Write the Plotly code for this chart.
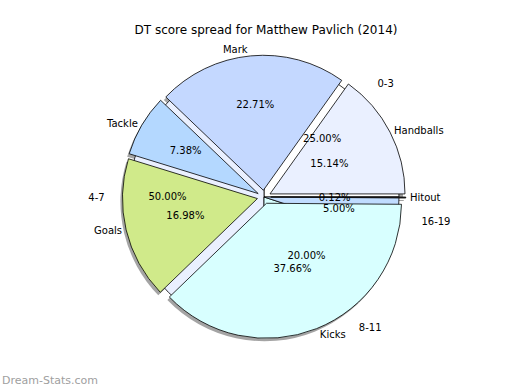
import plotly.graph_objects as go

# ---- data ----
main_labels = ["Handballs", "Mark", "Tackle", "Goals", "Kicks", "Hitout"]
main_values = [15.14, 22.71, 7.38, 16.98, 37.66, 0.12]
age_labels = ["0-3", "4-7", "8-11", "16-19"]
age_values = [25.0, 50.0, 20.0, 5.0]

title_text = "DT score spread for Matthew Pavlich (2014)"
watermark = "Dream-Stats.com"

# ---- style ----
main_colors = ["#eaf0ff", "#c4d8ff", "#b4d8ff", "#d0ea8a", "#d8ffff", "#3a3a3a"]
age_colors = ["#ffffff", "#eaf0ff", "#d8ffff", "#c0dcff"]
# radial scale of the domain used to place each percentage text
main_text_scale = [0.74, 1.05, 0.78, 0.84, 1.0, 0.5]
age_text_scale = [1.04, 1.43, 0.85, 0.65]
PULL = 0.05
W, H = 520, 390
CX, CY = 264, 197  # pie centre in px (from top-left)
R = 135            # pie radius in px
FONT = "DejaVu Sans"
CLEAR = "rgba(0,0,0,0)"


def clamp(v):
    return min(1.0, max(0.0, v))


def domain(r, pull, dx=0.0, dy=0.0):
    half = r * (1 + pull)
    x0 = (CX + dx - half) / W
    x1 = (CX + dx + half) / W
    y0 = 1 - (CY + dy + half) / H
    y1 = 1 - (CY + dy - half) / H
    return dict(x=[clamp(x0), clamp(x1)], y=[clamp(y0), clamp(y1)])


def rot(values):
    # first wedge starts at 3 o'clock and runs counter-clockwise
    return 90 - 360 * values[0] / sum(values)


def common(values):
    return dict(sort=False, direction="counterclockwise", rotation=rot(values),
                hoverinfo="skip", showlegend=False)


def percent_traces(labels, values, scales, pull):
    traces = []
    for s in sorted(set(scales)):
        tmpl = ["%{percent:.2%}" if sc == s else "" for sc in scales]
        traces.append(go.Pie(
            labels=labels, values=values, pull=[pull] * len(values),
            marker=dict(colors=[CLEAR] * len(values), line=dict(width=0)),
            texttemplate=tmpl, textposition="inside",
            insidetextorientation="horizontal",
            insidetextfont=dict(family=FONT, size=10, color="#000"),
            domain=domain(R * s, pull), **common(values)))
    return traces


fig = go.Figure()

# shadow of the main pie
fig.add_trace(go.Pie(labels=main_labels, values=main_values,
                     pull=[PULL] * len(main_values),
                     marker=dict(colors=["rgba(90,90,90,0.55)"] * len(main_values),
                                 line=dict(width=0)),
                     textinfo="none", domain=domain(R, PULL, -2, 3), **common(main_values)))

# age pie (underneath)
fig.add_trace(go.Pie(labels=age_labels, values=age_values,
                     marker=dict(colors=age_colors, line=dict(color="#000", width=0.8)),
                     textinfo="none", domain=domain(R, 0), **common(age_values)))

# main pie
fig.add_trace(go.Pie(labels=main_labels, values=main_values,
                     pull=[PULL] * len(main_values),
                     marker=dict(colors=main_colors, line=dict(color="#000", width=0.8)),
                     textinfo="none", domain=domain(R, PULL), **common(main_values)))

# main labels outside
fig.add_trace(go.Pie(labels=main_labels, values=main_values,
                     pull=[PULL] * len(main_values),
                     marker=dict(colors=[CLEAR] * len(main_values), line=dict(width=0)),
                     textinfo="label", textposition="outside",
                     outsidetextfont=dict(family=FONT, size=10, color="#000"),
                     domain=domain(R * 1.01, PULL), **common(main_values)))

# age labels outside
fig.add_trace(go.Pie(labels=age_labels, values=age_values,
                     marker=dict(colors=[CLEAR] * len(age_values), line=dict(width=0)),
                     textinfo="label", textposition="outside",
                     outsidetextfont=dict(family=FONT, size=10, color="#000"),
                     domain=domain(R * 1.16, 0), **common(age_values)))

for t in percent_traces(main_labels, main_values, main_text_scale, PULL):
    fig.add_trace(t)
for t in percent_traces(age_labels, age_values, age_text_scale, 0):
    fig.add_trace(t)

fig.update_layout(
    width=W, height=H,
    margin=dict(l=0, r=0, t=0, b=0),
    paper_bgcolor="#fff", plot_bgcolor="#fff",
    font=dict(family=FONT, size=10, color="#000"),
    uniformtext=dict(minsize=10, mode="show"),
    title=dict(text=title_text, x=266 / W, xanchor="center",
               y=1 - 30 / H, yanchor="middle", yref="container",
               font=dict(family=FONT, size=12, color="#000")),
    annotations=[dict(text=watermark, x=0, y=1 - 380 / H, xref="paper", yref="paper",
                      xanchor="left", yanchor="middle", showarrow=False,
                      font=dict(family="DejaVu Sans", size=11, color="#a0a0a0"))],
)

fig.write_html("out.html",
               config={"displayModeBar": False},
               post_script="document.body.style.margin='0';")
